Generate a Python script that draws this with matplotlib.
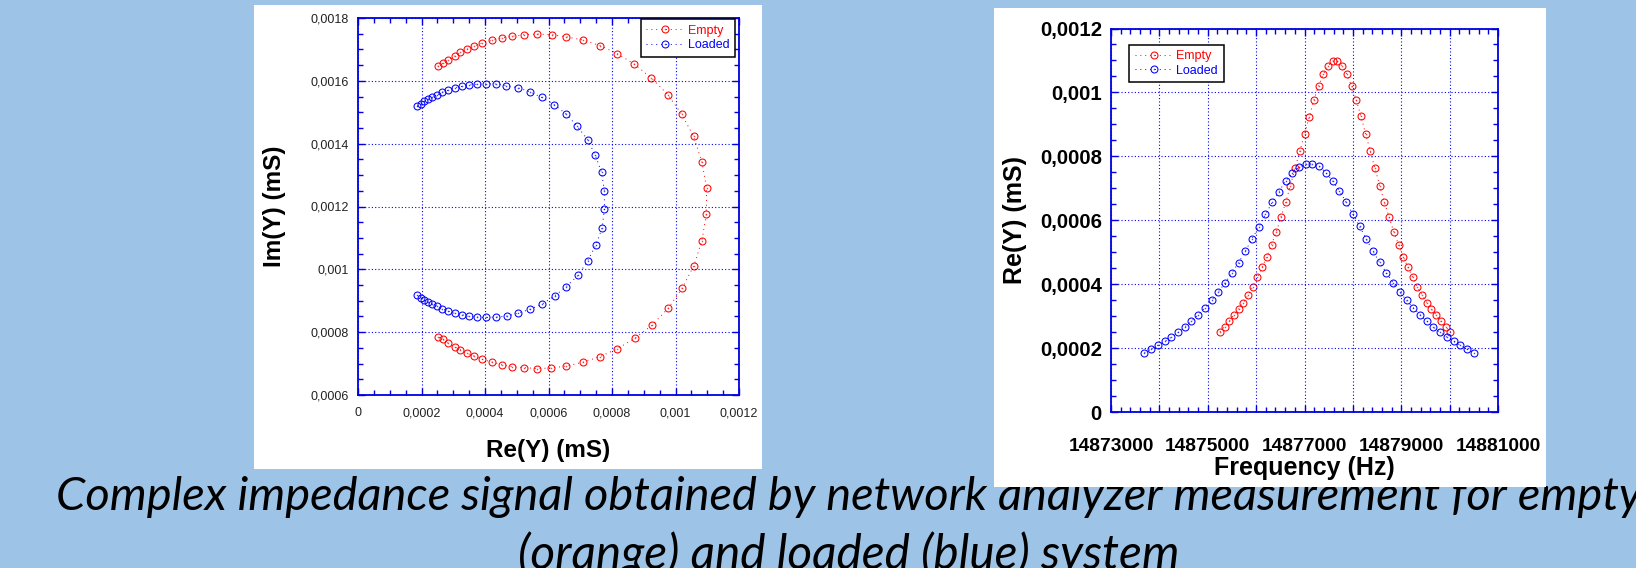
import matplotlib
matplotlib.use("Agg")
import matplotlib.pyplot as plt
from matplotlib.ticker import MultipleLocator, FuncFormatter
from matplotlib.patches import Rectangle
from matplotlib.path import Path

# ---------------- data ----------------
empty_freq = [14875250, 14875347, 14875444, 14875542, 14875639, 14875736, 14875833, 14875930, 14876028, 14876125,
              14876222, 14876319, 14876416, 14876514, 14876611, 14876708, 14876805, 14876902, 14877000, 14877097,
              14877194, 14877291, 14877388, 14877486, 14877583, 14877680, 14877777, 14877874, 14877972, 14878069,
              14878166, 14878263, 14878360, 14878458, 14878555, 14878652, 14878749, 14878846, 14878944, 14879041,
              14879138, 14879235, 14879332, 14879430, 14879527, 14879624, 14879721, 14879818, 14879916, 14880013]
empty_re = [0.000251, 0.000267, 0.000284, 0.000304, 0.000322, 0.000342, 0.000366, 0.000392, 0.000422, 0.000453,
            0.000486, 0.000524, 0.000564, 0.000610, 0.000656, 0.000708, 0.000763, 0.000816, 0.000869, 0.000923,
            0.000976, 0.001020, 0.001057, 0.001083, 0.001098, 0.001097, 0.001083, 0.001058, 0.001021, 0.000977,
            0.000926, 0.000871, 0.000816, 0.000762, 0.000708, 0.000656, 0.000609, 0.000564, 0.000524, 0.000486,
            0.000453, 0.000422, 0.000392, 0.000366, 0.000342, 0.000322, 0.000304, 0.000284, 0.000267, 0.000251]
empty_im = [0.001646, 0.001656, 0.001667, 0.001678, 0.001691, 0.001700, 0.001711, 0.001720, 0.001729, 0.001736,
            0.001742, 0.001747, 0.001749, 0.001747, 0.001740, 0.001730, 0.001712, 0.001687, 0.001654, 0.001610,
            0.001556, 0.001493, 0.001423, 0.001342, 0.001259, 0.001175, 0.001091, 0.001012, 0.000940, 0.000876,
            0.000822, 0.000780, 0.000747, 0.000722, 0.000704, 0.000692, 0.000686, 0.000684, 0.000687, 0.000690,
            0.000696, 0.000705, 0.000713, 0.000724, 0.000733, 0.000744, 0.000753, 0.000765, 0.000777, 0.000786]

loaded_freq = [14873692, 14873831, 14873970, 14874109, 14874248, 14874387, 14874526, 14874664, 14874803, 14874942,
               14875081, 14875220, 14875359, 14875498, 14875637, 14875776, 14875915, 14876054, 14876193, 14876332,
               14876470, 14876609, 14876748, 14876887, 14877026, 14877165, 14877304, 14877443, 14877582, 14877721,
               14877860, 14877998, 14878137, 14878276, 14878415, 14878554, 14878693, 14878832, 14878971, 14879110,
               14879249, 14879388, 14879527, 14879666, 14879804, 14879943, 14880082, 14880221, 14880360, 14880499]
loaded_re = [0.000186, 0.000197, 0.000209, 0.000221, 0.000234, 0.000249, 0.000266, 0.000284, 0.000304, 0.000326,
             0.000349, 0.000376, 0.000404, 0.000435, 0.000467, 0.000503, 0.000542, 0.000579, 0.000618, 0.000656,
             0.000689, 0.000723, 0.000747, 0.000767, 0.000776, 0.000776, 0.000769, 0.000749, 0.000723, 0.000693,
             0.000656, 0.000620, 0.000581, 0.000542, 0.000503, 0.000468, 0.000436, 0.000404, 0.000376, 0.000349,
             0.000326, 0.000304, 0.000284, 0.000266, 0.000249, 0.000234, 0.000221, 0.000209, 0.000197, 0.000186]
loaded_im = [0.001519, 0.001527, 0.001536, 0.001543, 0.001549, 0.001555, 0.001564, 0.001570, 0.001578, 0.001582,
             0.001587, 0.001589, 0.001590, 0.001590, 0.001585, 0.001578, 0.001565, 0.001547, 0.001524, 0.001494,
             0.001457, 0.001413, 0.001364, 0.001309, 0.001250, 0.001191, 0.001132, 0.001077, 0.001026, 0.000981,
             0.000945, 0.000916, 0.000890, 0.000873, 0.000860, 0.000851, 0.000848, 0.000847, 0.000848, 0.000850,
             0.000856, 0.000860, 0.000867, 0.000874, 0.000883, 0.000891, 0.000897, 0.000903, 0.000910, 0.000919]

series_labels = ["Empty", "Loaded"]
freq_tick_labels = [14873000, 14875000, 14877000, 14879000, 14881000]
caption_lines = ["Complex impedance signal obtained by network analyzer measurement for empty",
                 "(orange) and loaded (blue) system"]

# ---------------- style ----------------
W, H = 1636, 568
BG = "#9DC3E6"
RED = "#FF0000"
BLUE = "#0000FF"
SPINE = "#0000E0"

fig = plt.figure(figsize=(W / 100, H / 100), dpi=100, facecolor=BG)


def fx(px):
    return px / W


def fy(py):
    return 1 - py / H


# caption (drawn below the white panels)
cap_targets = [(849, 510, 1584), (849, 570, 661)]
renderer = fig.canvas.get_renderer()
for line, (cx, by, tw) in zip(caption_lines, cap_targets):
    t = fig.text(fx(cx), fy(by), line, ha="center", va="baseline", fontsize=30,
                 style="italic", family=["Lato", "DejaVu Sans"], color="black", zorder=0.5)
    bb = t.get_window_extent(renderer)
    t.set_fontsize(30 * tw / bb.width)

# white panels
for (x0, y0, x1, y1) in [(254, 5, 762, 469), (994, 8, 1546, 487)]:
    fig.patches.append(Rectangle((fx(x0), fy(y1)), fx(x1 - x0), (y1 - y0) / H,
                                 transform=fig.transFigure, facecolor="white",
                                 edgecolor="none", zorder=1))

# marker: open circle with a dot in the centre
circ_dot = Path.make_compound_path(Path.unit_circle(), Path.circle((0, 0), 0.06))

ax1 = fig.add_axes([fx(358), fy(395), fx(739 - 358), (395 - 18) / H], zorder=2)
ax2 = fig.add_axes([fx(1111), fy(412), fx(1498 - 1111), (412 - 28.5) / H], zorder=2)


def style_axes(ax, bold, lsize):
    for s in ax.spines.values():
        s.set_color(SPINE)
        s.set_linewidth(1.3)
    ax.tick_params(which="both", direction="in", top=True, right=True, color=SPINE,
                   width=1.0)
    ax.tick_params(which="major", length=5)
    ax.tick_params(which="minor", length=3.5)
    ax.grid(True, which="major", color=BLUE, linestyle=(0, (1, 2)), linewidth=0.8)
    ax.set_axisbelow(False)
    for lab in ax.get_xticklabels() + ax.get_yticklabels():
        lab.set_fontfamily("Liberation Sans")
        lab.set_fontweight("bold" if bold else "normal")
        lab.set_fontsize(lsize)


def comma_fmt(v, pos):
    s = "%g" % round(v, 8)
    return s.replace(".", ",")


def plot_series(ax, x, y, color, label):
    ax.plot(x, y, linestyle=(0, (1, 4)), linewidth=0.7, color=color, marker=circ_dot,
            markersize=5, markerfacecolor="none", markeredgecolor=color,
            markeredgewidth=0.75, label=label)


# ---- left: Nyquist ----
plot_series(ax1, empty_re, empty_im, RED, series_labels[0])
plot_series(ax1, loaded_re, loaded_im, BLUE, series_labels[1])
ax1.set_xlim(0, 0.0012)
ax1.set_ylim(0.0006, 0.0018)
ax1.xaxis.set_major_locator(MultipleLocator(0.0002))
ax1.xaxis.set_minor_locator(MultipleLocator(0.00005))
ax1.yaxis.set_major_locator(MultipleLocator(0.0002))
ax1.yaxis.set_minor_locator(MultipleLocator(0.00005))
ax1.xaxis.set_major_formatter(FuncFormatter(comma_fmt))
ax1.yaxis.set_major_formatter(FuncFormatter(comma_fmt))
style_axes(ax1, False, 9)
ax1.tick_params(axis="x", which="major", pad=9, labelcolor="#222222")
ax1.tick_params(axis="y", which="major", pad=6.5, labelcolor="#222222")
for lab in ax1.get_xticklabels() + ax1.get_yticklabels():
    lab.set_fontfamily("Liberation Sans")
    lab.set_fontsize(9)

leg1 = ax1.legend(loc="upper right", bbox_to_anchor=(0.9895, 0.997), borderaxespad=0,
                  fancybox=False, edgecolor="black", framealpha=1, handlelength=3.0,
                  handletextpad=0.3, labelspacing=0.2, borderpad=0.45, numpoints=1,
                  prop={"family": "Liberation Sans", "size": 9})
leg1.get_frame().set_linewidth(1.1)
for txt, c in zip(leg1.get_texts(), [RED, BLUE]):
    txt.set_color(c)

fig.text(fx(548.5), fy(457), "Re(Y) (mS)", ha="center", va="baseline",
         fontsize=17.5, fontweight="bold", family="Liberation Sans", zorder=3)
fig.text(fx(275), fy(206.5), "Im(Y) (mS)", ha="center", va="center", rotation=90,
         fontsize=17.5, fontweight="bold", family="Liberation Sans", zorder=3)

# ---- right: Re(Y) vs frequency ----
plot_series(ax2, empty_freq, empty_re, RED, series_labels[0])
plot_series(ax2, loaded_freq, loaded_re, BLUE, series_labels[1])
ax2.set_xlim(14873000, 14881000)
ax2.set_ylim(0, 0.0012)
ax2.xaxis.set_major_locator(MultipleLocator(1000))
ax2.xaxis.set_minor_locator(MultipleLocator(200))
ax2.yaxis.set_major_locator(MultipleLocator(0.0002))
ax2.yaxis.set_minor_locator(MultipleLocator(0.00005))


def freq_fmt(v, pos):
    iv = int(round(v))
    return str(iv) if iv in freq_tick_labels else ""


ax2.xaxis.set_major_formatter(FuncFormatter(freq_fmt))
ax2.yaxis.set_major_formatter(FuncFormatter(comma_fmt))
style_axes(ax2, True, 14)
ax2.tick_params(axis="x", which="major", pad=19)
ax2.tick_params(axis="y", which="major", pad=6.5)
for lab in ax2.get_xticklabels():
    lab.set_fontfamily("Liberation Sans")
    lab.set_fontweight("bold")
    lab.set_fontsize(13.8)
for lab in ax2.get_yticklabels():
    lab.set_fontfamily("Liberation Sans")
    lab.set_fontweight("bold")
    lab.set_fontsize(14.7)

leg2 = ax2.legend(loc="upper left", bbox_to_anchor=(0.0478, 0.958), borderaxespad=0,
                  fancybox=False, edgecolor="black", framealpha=1, handlelength=3.0,
                  handletextpad=0.3, labelspacing=0.2, borderpad=0.45, numpoints=1,
                  prop={"family": "Liberation Sans", "size": 9})
leg2.get_frame().set_linewidth(1.1)
for txt, c in zip(leg2.get_texts(), [RED, BLUE]):
    txt.set_color(c)

fig.text(fx(1304.5), fy(475), "Frequency (Hz)", ha="center", va="baseline",
         fontsize=18, fontweight="bold", family="Liberation Sans", zorder=3)
fig.text(fx(1015), fy(220), "Re(Y) (mS)", ha="center", va="center", rotation=90,
         fontsize=18, fontweight="bold", family="Liberation Sans", zorder=3)

fig.savefig("out.png", dpi=100, facecolor=BG)
